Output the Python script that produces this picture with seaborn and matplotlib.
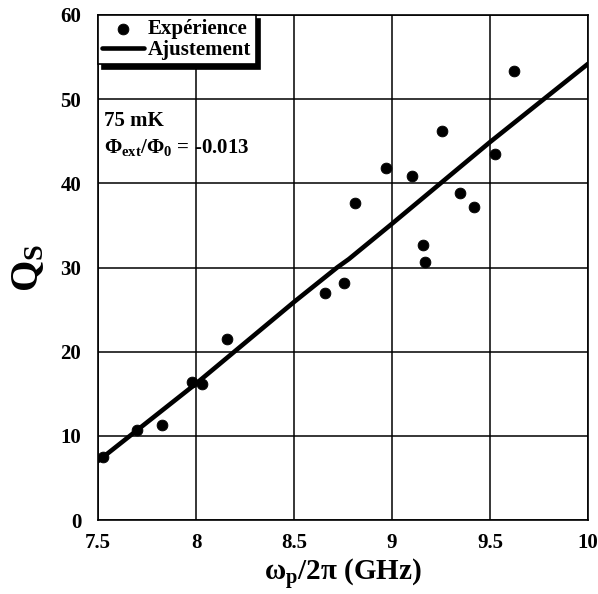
import matplotlib.pyplot as plt
import seaborn as sns
import pandas as pd
from matplotlib import rcParams

# measured points (frequency in GHz, quality factor)
freq = [7.525, 7.697, 7.828, 7.978, 8.032, 8.158, 8.658, 8.757, 8.810,
        8.968, 9.100, 9.157, 9.168, 9.257, 9.347, 9.418, 9.526, 9.622]
qs = [7.5, 10.7, 11.3, 16.4, 16.1, 21.5, 27.0, 28.2, 37.7,
      41.8, 40.9, 32.7, 30.6, 46.2, 38.9, 37.2, 43.5, 53.4]

# fit curve
fit_freq = [7.5, 8.0, 8.5, 8.72, 8.78, 9.0, 9.5, 10.0]
fit_qs = [7.0, 16.2, 25.9, 30.0, 31.0, 35.2, 44.9, 54.2]

xticks = [7.5, 8, 8.5, 9, 9.5, 10]
xticklabels = ['7.5', '8', '8.5', '9', '9.5', '10']
yticks = [0, 10, 20, 30, 40, 50, 60]

sns.set_style('white')
rcParams['font.family'] = ['Liberation Serif', 'DejaVu Serif']
rcParams['font.weight'] = 'bold'
rcParams['text.color'] = 'black'
rcParams['axes.labelcolor'] = 'black'
rcParams['xtick.color'] = 'black'
rcParams['ytick.color'] = 'black'
rcParams['mathtext.fontset'] = 'custom'
rcParams['mathtext.rm'] = 'Liberation Serif:bold'
rcParams['mathtext.it'] = 'Liberation Serif:bold'
rcParams['mathtext.bf'] = 'Liberation Serif:bold'
rcParams['mathtext.default'] = 'rm'

df = pd.DataFrame({'f': freq, 'q': qs})
fit = pd.DataFrame({'f': fit_freq, 'q': fit_qs})

fig = plt.figure(figsize=(5.98, 5.94), dpi=100)
ax = fig.add_axes([98 / 598, 74 / 594, 490 / 598, 505 / 594])

sns.lineplot(data=fit, x='f', y='q', ax=ax, color='black', linewidth=3.3,
             label='Ajustement', zorder=3)
sns.scatterplot(data=df, x='f', y='q', ax=ax, color='black', s=60,
                edgecolor='black', label='Expérience', zorder=4)

ax.set_xlim(7.5, 10)
ax.set_ylim(0, 60)
ax.set_xticks(xticks)
ax.set_xticklabels(xticklabels)
ax.set_yticks(yticks)
ax.grid(True, color='black', linewidth=1.1)
ax.set_axisbelow(True)
for s in ax.spines.values():
    s.set_color('black')
    s.set_linewidth(1.2)
ax.tick_params(axis='both', direction='in', length=4, width=1, colors='black',
               labelsize=15)
ax.tick_params(axis='y', pad=12)
ax.tick_params(axis='x', pad=9)
for lab in ax.get_xticklabels() + ax.get_yticklabels():
    lab.set_fontweight('bold')

ax.set_xlabel(r'ω$_\mathrm{p}$/2π (GHz)', fontsize=21, fontweight='bold',
              labelpad=3)
ax.set_ylabel(r'Q$_\mathrm{S}$', fontsize=29, fontweight='bold', labelpad=10)

ax.text(0.012, 0.78, '75 mK', transform=ax.transAxes, fontsize=15,
        fontweight='bold', va='baseline')
ax.text(0.012, 0.727, r'Φ$_\mathrm{ext}$/Φ$_0$ = -0.013', transform=ax.transAxes,
        fontsize=15, fontweight='bold', va='baseline')

handles, labels = ax.get_legend_handles_labels()
order = [1, 0]
leg = ax.legend([handles[i] for i in order], [labels[i] for i in order],
                loc='upper left', borderaxespad=0, fancybox=False,
                frameon=True, edgecolor='black', framealpha=1,
                prop={'family': 'Liberation Serif', 'weight': 'bold', 'size': 15},
                handlelength=2.0, handletextpad=0.2, borderpad=0.2,
                labelspacing=0.05,
                shadow={'ox': 3, 'oy': -3, 'color': 'black', 'alpha': 1})
leg.get_frame().set_linewidth(1.2)

plt.savefig('out.png', dpi=100)
